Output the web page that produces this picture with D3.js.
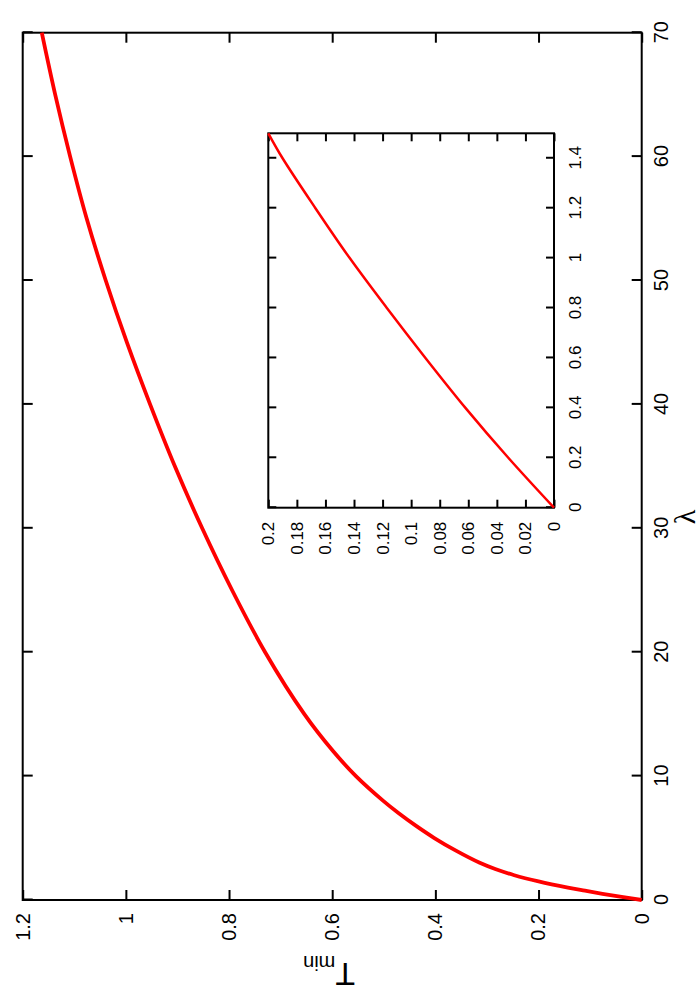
<!DOCTYPE html>
<html>
<head>
<meta charset="utf-8">
<script src="https://cdn.jsdelivr.net/npm/d3@7"></script>
<style>
  body { margin: 0; background: #fff; }
  svg { display: block; }
  text { font-family: "Liberation Sans", Arial, sans-serif; fill: #000; }
</style>
</head>
<body>
<div id="chart"></div>
<script>
// Main curve: T_min against lambda
var mainLambda = [0, 0.25, 0.5, 0.75, 1, 1.5, 2, 2.5, 3, 4, 5, 6, 7, 8, 10, 12, 15, 20, 25, 30, 35, 40, 45, 50, 55, 60, 65, 70];
var mainT      = [0, 0.039, 0.076, 0.110, 0.143, 0.2, 0.247, 0.284, 0.314, 0.361, 0.402, 0.438, 0.471, 0.501, 0.554, 0.598, 0.654, 0.730, 0.794, 0.852, 0.905, 0.953, 0.998, 1.039, 1.076, 1.108, 1.137, 1.163];

// Inset: zoom on small lambda
var insetLambda = [0, 0.2, 0.4, 0.6, 0.8, 1.0, 1.2, 1.4, 1.5];
var insetT      = [0, 0.032, 0.062, 0.09, 0.117, 0.143, 0.167, 0.19, 0.2];

// Ticks
var mainLambdaTicks = [0, 10, 20, 30, 40, 50, 60, 70];
var mainTTicks = [0, 0.2, 0.4, 0.6, 0.8, 1, 1.2];
var insetLambdaTicks = [0, 0.2, 0.4, 0.6, 0.8, 1, 1.2, 1.4];
var insetTTicks = [0, 0.02, 0.04, 0.06, 0.08, 0.1, 0.12, 0.14, 0.16, 0.18, 0.2];

var fmt = d3.format("~g");

var svg = d3.select("#chart").append("svg")
    .attr("width", 700)
    .attr("height", 1000);

// whole plot drawn landscape, then turned a quarter counter-clockwise
var g = svg.append("g")
    .attr("transform", "translate(0,1000) rotate(-90)");

function drawPanel(opts) {
    var x = d3.scaleLinear().domain(opts.xDomain).range(opts.xRange);
    var y = d3.scaleLinear().domain(opts.yDomain).range(opts.yRange);
    var x0 = opts.xRange[0], x1 = opts.xRange[1];
    var y0 = opts.yRange[1], y1 = opts.yRange[0];

    var panel = g.append("g");

    panel.append("g")
        .attr("transform", "translate(0," + y1 + ")")
        .call(d3.axisBottom(x).tickValues(opts.xTicks).tickFormat(fmt)
            .tickSize(-opts.tick).tickSizeOuter(0).tickPadding(opts.xPad))
        .call(styleAxis, opts.font);

    panel.append("g")
        .attr("transform", "translate(0," + y0 + ")")
        .call(d3.axisTop(x).tickValues(opts.xTicks).tickFormat("")
            .tickSize(-opts.tick).tickSizeOuter(0))
        .call(styleAxis, opts.font);

    panel.append("g")
        .attr("transform", "translate(" + x0 + ",0)")
        .call(d3.axisLeft(y).tickValues(opts.yTicks).tickFormat(fmt)
            .tickSize(-opts.tick).tickSizeOuter(0).tickPadding(opts.yPad))
        .call(styleAxis, opts.font);

    panel.append("g")
        .attr("transform", "translate(" + x1 + ",0)")
        .call(d3.axisRight(y).tickValues(opts.yTicks).tickFormat("")
            .tickSize(-opts.tick).tickSizeOuter(0))
        .call(styleAxis, opts.font);

    panel.append("rect")
        .attr("x", x0)
        .attr("y", y0)
        .attr("width", x1 - x0)
        .attr("height", y1 - y0)
        .attr("fill", "none")
        .attr("stroke", "#000")
        .attr("stroke-width", 2);

    var line = d3.line()
        .x(function(d) { return x(d[0]); })
        .y(function(d) { return y(d[1]); })
        .curve(d3.curveCatmullRom.alpha(0.5));

    panel.append("path")
        .datum(d3.zip(opts.xs, opts.ys))
        .attr("d", line)
        .attr("fill", "none")
        .attr("stroke", "#ff0000")
        .attr("stroke-width", opts.lineWidth);
}

function styleAxis(sel, font) {
    sel.select(".domain").remove();
    sel.selectAll(".tick line").attr("stroke", "#000").attr("stroke-width", 2);
    sel.selectAll(".tick text")
        .attr("font-size", font)
        .attr("font-family", "Liberation Sans, Arial, sans-serif");
}

// main plot
drawPanel({
    xDomain: [0, 70], xRange: [100, 967.3],
    yDomain: [0, 1.2], yRange: [641.7, 22.7],
    xTicks: mainLambdaTicks, yTicks: mainTTicks,
    xs: mainLambda, ys: mainT,
    tick: 10, font: 20, xPad: 12, yPad: 13, lineWidth: 3.8
});

// inset
drawPanel({
    xDomain: [0, 1.5], xRange: [492.3, 866.7],
    yDomain: [0, 0.2], yRange: [554, 268.3],
    xTicks: insetLambdaTicks, yTicks: insetTTicks,
    xs: insetLambda, ys: insetT,
    tick: 8, font: 17, xPad: 15, yPad: 14, lineWidth: 2.5
});

// axis titles
g.append("text")
    .attr("x", 483)
    .attr("y", 695)
    .attr("text-anchor", "middle")
    .style("font-family", "Liberation Serif, serif")
    .attr("font-size", 30)
    .text("λ");

var yl = g.append("text")
    .attr("transform", "translate(37,329) rotate(-90)")
    .attr("text-anchor", "middle")
    .attr("font-size", 32);
yl.append("tspan").text("T");
yl.append("tspan").attr("font-size", 20).attr("dy", 7).text("min");
</script>
</body>
</html>
